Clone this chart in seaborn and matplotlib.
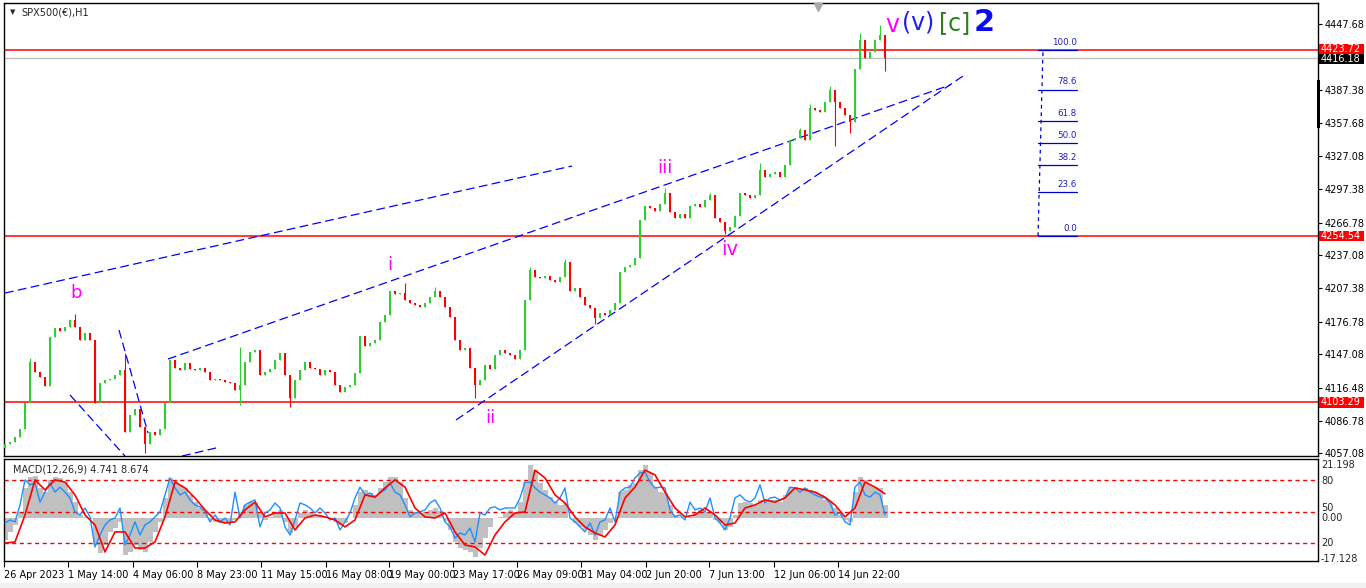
import numpy as np
import matplotlib
matplotlib.use("Agg")
import matplotlib.pyplot as plt
import seaborn as sns
from matplotlib.patches import Rectangle
from matplotlib.transforms import blended_transform_factory

sns.set_theme(style="white")
plt.rcParams['font.family'] = ['DejaVu Sans']

# ---------------- data ----------------
first_open = 4062.0
close = [4065, 4067, 4072, 4079, 4103, 4140, 4131, 4126, 4118, 4163,
         4171, 4168, 4172, 4178, 4172, 4160, 4166, 4160, 4103, 4121,
         4124, 4125, 4128, 4133, 4076, 4092, 4097, 4081, 4065, 4076,
         4074, 4079, 4103, 4142, 4135, 4133, 4139, 4134, 4133, 4135,
         4131, 4124, 4125, 4124, 4122, 4121, 4115, 4119, 4140, 4149,
         4151, 4128, 4131, 4134, 4142, 4148, 4128, 4107, 4124, 4133,
         4140, 4135, 4134, 4128, 4133, 4131, 4119, 4113, 4117, 4119,
         4130, 4164, 4155, 4157, 4160, 4176, 4183, 4205, 4202, 4203,
         4196, 4194, 4192, 4190, 4194, 4199, 4205, 4199, 4190, 4181,
         4160, 4151, 4153, 4135, 4119, 4124, 4137, 4134, 4146, 4151,
         4148, 4146, 4143, 4151, 4196, 4224, 4217, 4216, 4218, 4215,
         4213, 4217, 4231, 4205, 4207, 4199, 4192, 4189, 4180, 4185,
         4183, 4187, 4194, 4222, 4226, 4228, 4235, 4269, 4282, 4280,
         4277, 4284, 4294, 4276, 4271, 4275, 4271, 4282, 4284, 4281,
         4287, 4292, 4271, 4267, 4259, 4263, 4273, 4294, 4292, 4289,
         4292, 4315, 4308, 4311, 4313, 4308, 4319, 4342, 4344, 4351,
         4342, 4371, 4369, 4367, 4376, 4387, 4376, 4371, 4365, 4358,
         4406, 4433, 4416, 4422, 4433, 4437, 4416.18]
spike_high = {5: 4144, 14: 4184, 24: 4148, 47: 4154, 80: 4212, 86: 4208,
              105: 4226, 112: 4234, 132: 4298, 141: 4294, 151: 4321,
              159: 4353, 161: 4375, 165: 4391, 171: 4439, 175: 4446}
spike_low = {28: 4057, 47: 4101, 57: 4099, 94: 4107, 118: 4175, 144: 4256,
             166: 4336, 169: 4348, 176: 4405}

macd_hist = [-7.9, -5.0, -2.5, 2.2, 10.8, 14.7, 15.1, 10.8, 9.3, 13.7,
             14.7, 14.4, 12.9, 9.3, 5.7, 1.1, 0.4, -0.2, -9.7, -12.6,
             -9.7, -5.0, -3.6, -1.4, -13.3, -12.2, -9.7, -11.5, -12.2, -8.6,
             -5.0, -1.4, 7.2, 14.4, 13.7, 11.9, 10.8, 8.3, 5.7, 3.6,
             1.8, -0.7, -1.4, -1.8, -1.8, -1.8, -0.7, 2.2, 4.7, 5.7,
             5.7, 2.2, -0.7, 0.4, 1.8, 2.9, -1.4, -5.4, -3.2, 1.8,
             2.9, 2.2, 1.1, 1.1, 0.4, 0.0, -1.4, -2.5, -1.8, 0.0,
             4.7, 9.3, 10.1, 9.0, 8.3, 10.8, 12.9, 14.7, 14.7, 12.9,
             7.2, 2.9, 2.2, 1.8, 2.2, 2.9, 3.6, 2.5, -1.1, -4.3,
             -8.6, -10.8, -11.5, -12.2, -14.0, -10.8, -7.2, -3.2, 0.0, 0.4,
             2.2, 2.9, 2.2, 5.7, 12.9, 19.0, 17.2, 12.6, 10.1, 7.5,
             5.7, 4.7, 5.4, 0.0, -1.8, -3.2, -4.3, -6.1, -7.9, -6.1,
             -4.3, -1.8, 0.4, 9.3, 10.1, 11.9, 12.6, 17.2, 19.0, 16.2,
             11.1, 9.3, 9.0, 4.7, 1.1, 0.4, 0.0, 0.4, 2.2, 2.9,
             2.2, 1.8, -0.7, -1.8, -4.3, -3.2, 1.1, 5.4, 5.7, 5.4,
             4.7, 6.5, 5.7, 6.5, 6.5, 5.7, 8.3, 11.1, 11.1, 10.1,
             10.8, 10.1, 9.3, 8.3, 6.5, 5.7, 3.6, 1.1, -0.7, -1.4,
             9.3, 14.7, 13.7, 11.9, 11.1, 10.8, 4.741]
macd_line = [-1.8, -0.7, -1.4, 4.7, 13.7, 11.9, 12.6, 5.7, 9.3, 12.6,
             9.3, 11.1, 9.3, 7.2, 2.2, 1.1, 3.6, 0.4, -10.4, -6.1,
             -2.5, -0.7, 0.0, 3.6, -9.7, -6.1, -1.4, -6.1, -2.5, -1.4,
             0.4, 2.2, 8.3, 14.4, 10.8, 8.3, 9.3, 6.5, 4.7, 4.0,
             2.2, -1.4, 1.1, -1.4, 0.0, -2.5, 9.3, 0.0, 4.7, 5.7,
             6.5, -3.2, 1.8, 2.9, 5.4, 3.6, -3.2, -6.1, -0.7, 5.4,
             4.7, 3.6, 1.8, 3.6, 1.8, -0.7, 0.0, -4.3, -1.4, 1.8,
             7.2, 11.1, 8.3, 9.0, 7.5, 9.0, 10.1, 12.6, 9.3, 8.3,
             4.7, 0.4, 1.8, 2.2, 2.9, 5.4, 6.5, 3.6, -1.4, -3.2,
             -7.2, -5.4, -6.1, -3.6, -8.6, 1.8, 1.1, 3.6, 4.0, 2.9,
             3.6, 3.6, 3.6, 7.2, 12.9, 12.9, 10.8, 9.3, 8.3, 7.2,
             5.4, 7.2, 10.8, 0.0, -1.4, -3.2, -5.0, -1.8, -6.1, -1.4,
             -0.7, 3.6, -1.4, 9.3, 10.8, 11.1, 14.4, 16.2, 16.5, 12.9,
             10.8, 11.1, 10.8, 2.9, 0.4, 1.1, -0.7, 5.7, 2.9, 3.6,
             2.2, 7.2, 0.0, -1.8, -4.3, 0.0, 7.2, 8.3, 6.5, 5.7,
             7.2, 11.9, 5.4, 7.2, 7.5, 6.5, 7.2, 11.1, 10.8, 9.3,
             10.8, 9.3, 8.3, 7.5, 7.2, 5.4, 1.1, 1.8, -1.4, -2.5,
             11.1, 12.9, 8.3, 7.5, 9.3, 8.3, 1.1]
macd_signal = [-9.0, -8.6, 1.1, 13.7, 10.1, 13.7, 12.9, 8.3, 1.1, -2.5,
               -12.2, -5.0, -5.0, -10.8, -10.8, -8.6, 0.4, 12.9, 10.8, 7.2,
               2.9, -0.7, -1.8, -1.4, 2.9, 5.7, 0.4, 1.8, 1.8, -4.3,
               0.0, 1.1, 0.4, -0.7, -3.2, -0.7, 8.3, 7.5, 10.8, 13.7,
               11.1, 3.6, 0.4, 0.0, 1.8, -5.0, -9.7, -10.4, -13.3, -6.1,
               -1.4, 1.8, 2.2, 17.2, 14.4, 8.3, 5.4, 0.4, -3.2, -5.4,
               -6.8, -2.5, 7.2, 11.1, 17.2, 15.5, 9.3, 3.6, 0.4, 1.1,
               3.6, 1.1, -2.5, -1.8, 3.6, 4.7, 6.5, 5.7, 7.2, 10.8,
               10.1, 9.3, 7.5, 4.7, 0.4, 3.6, 12.9, 11.1, 8.674]

price_ticks = [4447.68, 4387.38, 4357.68, 4327.08, 4297.38, 4266.78, 4237.08,
               4207.38, 4176.78, 4147.08, 4116.48, 4086.78, 4057.08]
date_labels = ["26 Apr 2023", "1 May 14:00", "4 May 06:00", "8 May 23:00",
               "11 May 15:00", "16 May 08:00", "19 May 00:00", "23 May 17:00",
               "26 May 09:00", "31 May 04:00", "2 Jun 20:00", "7 Jun 13:00",
               "12 Jun 06:00", "14 Jun 22:00"]
date_pos = [-0.2, 12.6, 25.6, 38.4, 51.2, 64.2, 76.8, 89.6, 102.4, 115.2,
            128.2, 140.8, 153.8, 166.6]

red_levels = [4423.72, 4254.54, 4103.29]
last_price = 4416.18
fib_low, fib_high = 4254.54, 4423.72
fib_ratios = [0.0, 23.6, 38.2, 50.0, 61.8, 78.6, 100.0]

# trend lines (bar index, price)
trendlines = [((0, 4202.7), (113.4, 4318.2)),
              ((32.6, 4142.7), (189.0, 4391.8)),
              ((90.2, 4087.3), (191.6, 4400.0)),
              ((13.0, 4110.0), (24.0, 4054.5)),
              ((22.8, 4169.1), (28.6, 4075.4)),
              ((35.4, 4054.5), (43.0, 4062.7))]

wave_labels = [("b", 14.2, 4202.7, 13, "#FF00FF", "normal"),
               ("i", 77.0, 4228.0, 13, "#FF00FF", "normal"),
               ("ii", 97.0, 4089.0, 13, "#FF00FF", "normal"),
               ("iii", 132.0, 4316.0, 13, "#FF00FF", "normal"),
               ("iv", 145.0, 4242.0, 14, "#FF00FF", "normal"),
               ("v", 177.4, 4446.0, 17, "#FF00FF", "normal"),
               ("(v)", 182.6, 4449.0, 17, "#1E1EF0", "normal"),
               ("[c]", 190.0, 4448.0, 17, "#2A7F1E", "normal"),
               ("2", 195.9, 4448.5, 22, "#0A0AF0", "bold")]

# ---------------- figure ----------------
W, H = 1366, 588
fig = plt.figure(figsize=(W / 100, H / 100), dpi=100)
fig.patch.set_facecolor("white")


def px_rect(x0, y0, x1, y1):
    return [x0 / W, 1 - y1 / H, (x1 - x0) / W, (y1 - y0) / H]


ax = fig.add_axes(px_rect(4, 3, 1318, 456))
axm = fig.add_axes(px_rect(4, 459, 1318, 561))

n = len(close)
idx = np.arange(n)
c = np.array(close, dtype=float)
o = np.r_[first_open, c[:-1]]
hi = np.maximum(o, c)
lo = np.minimum(o, c)
for k, v in spike_high.items():
    hi[k] = max(hi[k], v)
for k, v in spike_low.items():
    lo[k] = min(lo[k], v)
cols = np.where(c > o, "#32CD32", np.where(c < o, "#FF0000", "#000000"))

XMIN, XMAX = -0.2, 262.6
YMIN, YMAX = 4054.54, 4466.4

# horizontal lines
for lv in red_levels:
    ax.axhline(lv, color="#FF0000", lw=1.1, zorder=1)
ax.axhline(last_price, color="#C0C0C0", lw=1.0, zorder=1)

# candles
ax.vlines(idx, lo, hi, colors=cols, lw=0.8, zorder=3)
ax.bar(idx, c - o, bottom=o, width=0.45, color=cols, linewidth=0, zorder=3)

# trend lines
for (x0, y0), (x1, y1) in trendlines:
    ax.plot([x0, x1], [y0, y1], color="#0000FF", lw=0.9,
            dashes=(7, 3.5), zorder=2)

# fibonacci tool
fib_x0, fib_x1 = 206.6, 214.4
fib_prices = [fib_low + r / 100 * (fib_high - fib_low) for r in fib_ratios]
ax.plot([206.6, 207.6], [fib_low, fib_high], color="#0000CD", lw=0.9,
        dashes=(3, 3), zorder=2)
for r, p in zip(fib_ratios, fib_prices):
    ax.plot([fib_x0, fib_x1], [p, p], color="#0000CD", lw=0.9, zorder=2)
    ax.text(fib_x1, p + 3.0, f"{r:.1f}", color="#2020B0", fontsize=6.3,
            ha="right", va="bottom")

# wave labels
for t, x, y, fs, col, fw in wave_labels:
    ax.text(x, y, t, color=col, fontsize=fs, fontweight=fw,
            ha="center", va="center", zorder=5)

# chart-shift marker
ax.plot([162.6], [4463.0], marker="v", color="#A8A8A8", ms=6,
        clip_on=False, zorder=6)

ax.set_xlim(XMIN, XMAX)
ax.set_ylim(YMIN, YMAX)
ax.set_xticks([])
ax.yaxis.tick_right()
ax.set_yticks(price_ticks)
ax.set_yticklabels([f"{v:.2f}" for v in price_ticks])
ax.tick_params(axis="y", length=3, width=0.8, pad=1.5, labelsize=7,
               colors="black", direction="out")
for s in ax.spines.values():
    s.set_color("black")
    s.set_linewidth(1.0)
ax.grid(False)


def fig_y(axis, val):
    d = axis.transData.transform((0, val))
    return fig.transFigure.inverted().transform(d)[1]


# price tags on the scale (value, colour, vertical nudge in px)
for val, fc, nudge in [(4423.72, "#FF0000", 0.5), (4254.54, "#FF0000", 0),
                       (4103.29, "#FF0000", 0), (last_price, "#000000", -1.0)]:
    fy = fig_y(ax, val) + nudge / H
    fig.add_artist(Rectangle((1319 / W, fy - 5.2 / H), 45 / W, 10.4 / H,
                             transform=fig.transFigure, facecolor=fc,
                             edgecolor="none", zorder=10))
    fig.text(1321 / W, fy, f"{val:.2f}", color="white", fontsize=7,
             va="center", ha="left", zorder=11)

# black bar on scale
fig.add_artist(Rectangle((1316.5 / W, 1 - 128 / H), 3.5 / W, 48 / H,
                         transform=fig.transFigure, facecolor="black",
                         edgecolor="none", zorder=10))

# title
fig.text(10 / W, 1 - 12.5 / H, "▼", fontsize=5, va="center", ha="left")
fig.text(21 / W, 1 - 12.5 / H, "SPX500(€),H1", fontsize=7, va="center",
         ha="left")

# ---------------- MACD panel ----------------
axm.bar(idx, macd_hist, width=1.0, color="#C0C0C0", linewidth=0, zorder=1)
sns.lineplot(x=idx, y=macd_line, ax=axm, color="#1E90FF", lw=1.0,
             estimator=None, zorder=3)
sns.lineplot(x=idx[::2], y=macd_signal, ax=axm, color="#FF0000", lw=1.2,
             estimator=None, zorder=4)
for lv in [13.7, 2.05, -9.1]:
    axm.axhline(lv, color="#FF0000", lw=1.0, dashes=(3, 2.5), zorder=2)

axm.set_xlim(XMIN, XMAX)
axm.set_ylim(-15.45, 21.2)
axm.set_yticks([])
axm.set_ylabel("")
axm.set_xticks(date_pos)
axm.set_xticklabels(date_labels, ha="left")
axm.tick_params(axis="x", length=4, width=0.8, pad=2.5, labelsize=7,
                colors="black", direction="out", bottom=True)
for s in axm.spines.values():
    s.set_color("black")
    s.set_linewidth(1.0)
axm.grid(False)

axm.text(9 / 1314, 0.9, "MACD(12,26,9) 4.741 8.674", transform=axm.transAxes,
         fontsize=7, va="center", ha="left")
tr = blended_transform_factory(axm.transAxes, axm.transData)
for txt, v in [("21.198", 18.9), ("80", 13.3), ("50", 3.6),
               ("0.00", -0.1), ("20", -9.0), ("-17.128", -14.6)]:
    axm.text(1.0 + 3 / 1314, v, txt, transform=tr, fontsize=7,
             va="center", ha="left", clip_on=False)

# bottom strip
fig.add_artist(Rectangle((0, 0), 1, 5 / H, transform=fig.transFigure,
                         facecolor="#F0F0F0", edgecolor="none"))

fig.savefig("out.png", dpi=100, facecolor="white")
